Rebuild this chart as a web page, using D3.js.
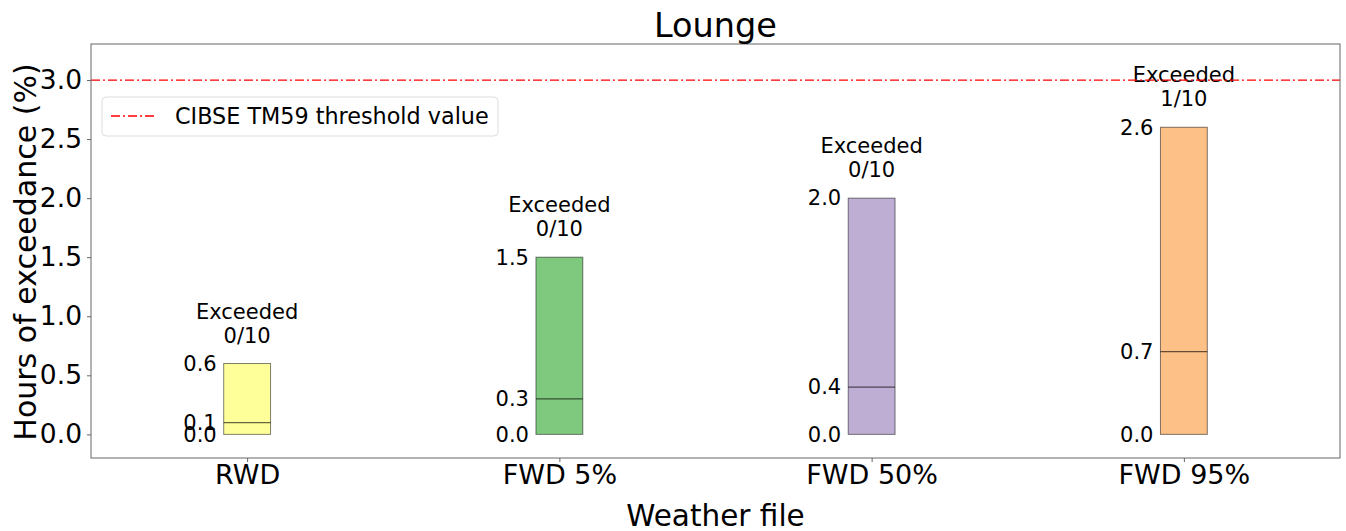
<!DOCTYPE html>
<html><head><meta charset="utf-8">
<script src="https://cdn.jsdelivr.net/npm/d3@7"></script>
<style>body{margin:0;background:#fff}svg{display:block;font-family:"DejaVu Sans",sans-serif}</style>
</head><body><svg id="c" width="1346" height="531"></svg>
<script>
const categories = ["RWD","FWD 5%","FWD 50%","FWD 95%"];
const minValues = [0.0, 0.0, 0.0, 0.0];
const medianValues = [0.1, 0.3, 0.4, 0.7];
const maxValues = [0.6, 1.5, 2.0, 2.6];
const exceeded = ["0/10","0/10","0/10","1/10"];
const colors = ["#ffff99","#7fc97f","#beaed4","#fdc086"];
const threshold = 3.0;
const yTicks = [0.0,0.5,1.0,1.5,2.0,2.5,3.0];

const svg = d3.select("#c");
const L=91,R=1340,T=44,B=458;
const x = d3.scaleLinear().domain([-0.5,3.5]).range([L,R]);
const y = d3.scaleLinear().domain([-0.2,3.305]).range([B,T]);
const bw = 0.15;

// bars
categories.forEach((c,i)=>{
  const g = svg.append("g");
  g.append("rect").attr("x",x(i-bw/2)).attr("y",y(maxValues[i]))
   .attr("width",x(i+bw/2)-x(i-bw/2)).attr("height",y(minValues[i])-y(maxValues[i]))
   .attr("fill",colors[i]).attr("stroke","#000").attr("stroke-opacity",0.5).attr("stroke-width",1);
  g.append("line").attr("x1",x(i-bw/2)).attr("x2",x(i+bw/2))
   .attr("y1",y(medianValues[i])).attr("y2",y(medianValues[i]))
   .attr("stroke","#000").attr("stroke-opacity",0.6).attr("stroke-width",1.2);
  [minValues[i],medianValues[i],maxValues[i]].forEach(v=>{
    g.append("text").attr("x",x(i-bw/2)-7).attr("y",y(v)).attr("dy","0.35em")
     .attr("text-anchor","end").attr("font-size",21).text(v.toFixed(1));
  });
  const t = g.append("text").attr("text-anchor","middle").attr("font-size",21);
  t.append("tspan").attr("x",x(i)).attr("y",y(maxValues[i])-45).text("Exceeded");
  t.append("tspan").attr("x",x(i)).attr("y",y(maxValues[i])-21).text(exceeded[i]);
});

// threshold
svg.append("line").attr("x1",L).attr("x2",R).attr("y1",y(threshold)).attr("y2",y(threshold))
  .attr("stroke","#ff0000").attr("stroke-width",1.3).attr("stroke-dasharray","9,3,2,3");

// frame
svg.append("rect").attr("x",L).attr("y",T).attr("width",R-L).attr("height",B-T)
  .attr("fill","none").attr("stroke","#666").attr("stroke-width",1);

// axes
const ya = svg.append("g").attr("transform",`translate(${L},0)`)
  .call(d3.axisLeft(y).tickValues(yTicks).tickFormat(d3.format(".1f")).tickSize(4).tickPadding(5));
ya.select(".domain").remove();
ya.selectAll("text").attr("font-size",26.5).attr("font-family","DejaVu Sans").attr("fill","#000");
ya.selectAll("line").attr("stroke","#666");
const xa = svg.append("g").attr("transform",`translate(0,${B})`)
  .call(d3.axisBottom(x).tickValues([0,1,2,3]).tickFormat(i=>categories[i]).tickSize(4).tickPadding(3));
xa.select(".domain").remove();
xa.selectAll("text").attr("font-size",27).attr("font-family","DejaVu Sans").attr("fill","#000");
xa.selectAll("line").attr("stroke","#666");

// labels
svg.append("text").attr("x",(L+R)/2).attr("y",37).attr("text-anchor","middle").attr("font-size",33.5).text("Lounge");
svg.append("text").attr("x",(L+R)/2).attr("y",526).attr("text-anchor","middle").attr("font-size",29.5).text("Weather file");
svg.append("text").attr("transform",`translate(36,252) rotate(-90)`).attr("text-anchor","middle")
  .attr("font-size",30).text("Hours of exceedance (%)");

// legend
const lg = svg.append("g");
lg.append("rect").attr("x",102).attr("y",97).attr("width",396).attr("height",39).attr("rx",4)
  .attr("fill","#fff").attr("fill-opacity",0.8).attr("stroke","#ddd");
lg.append("line").attr("x1",111).attr("x2",157).attr("y1",116).attr("y2",116)
  .attr("stroke","#ff0000").attr("stroke-width",1.3).attr("stroke-dasharray","9,3,2,3");
lg.append("text").attr("x",175).attr("y",116).attr("dy","0.35em").attr("font-size",22.3).text("CIBSE TM59 threshold value");
</script></body></html>
